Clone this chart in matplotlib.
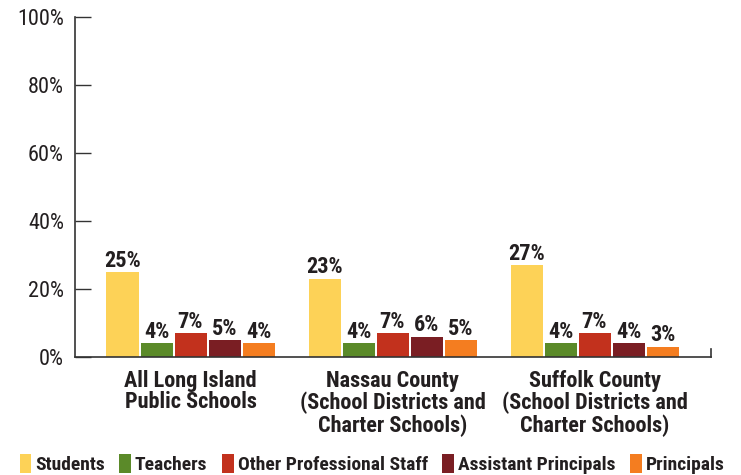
import matplotlib
matplotlib.use("Agg")
import matplotlib.pyplot as plt
import numpy as np
from matplotlib.patches import Patch

groups = ["All Long Island\nPublic Schools",
          "Nassau County\n(School Districts and\nCharter Schools)",
          "Suffolk County\n(School Districts and\nCharter Schools)"]
series = ["Students", "Teachers", "Other Professional Staff", "Assistant Principals", "Principals"]
students = [25, 23, 27]
teachers = [4, 4, 4]
other_staff = [7, 7, 7]
asst_principals = [5, 6, 4]
principals = [4, 5, 3]
values = [students, teachers, other_staff, asst_principals, principals]
colors = ["#FDD257", "#5B8A29", "#C2311D", "#7A1E23", "#F47D20"]
yticks = [0, 20, 40, 60, 80, 100]
ytick_labels = ["0%", "20%", "40%", "60%", "80%", "100%"]

fam = ['Roboto Condensed', 'Archivo Narrow', 'Asap Condensed', 'DejaVu Sans']
plt.rcParams['font.family'] = fam

fig = plt.figure(figsize=(7.41, 4.75), dpi=100)
ax = fig.add_axes([75/741, 1-357/475, 636/741, 340/475])

x = np.arange(len(groups))
step = 34/202
width = 32/202
for i, (vals, col, name) in enumerate(zip(values, colors, series)):
    pos = x + (i - 2) * step
    bars = ax.bar(pos, vals, width=width, color=col, label=name, zorder=2)
    for b, v in zip(bars, vals):
        ax.annotate(f"{v}%", (b.get_x() + b.get_width()/2, v), xytext=(0, 0.3),
                    textcoords="offset points", ha="center", va="bottom",
                    fontsize=16, fontweight="bold", color="#231F20")

ax.set_xlim((75-190.5)/202, (711-190.5)/202)
ax.set_ylim(0, 100)
ax.set_yticks(yticks)
ax.set_yticklabels(ytick_labels, fontsize=16, color="#231F20")
ax.tick_params(axis='y', direction='in', length=11.5, width=1, color="#333333", pad=8)
ax.set_xticks(x)
ax.set_xticklabels(groups, fontsize=16, fontweight="bold", color="#231F20", linespacing=1.0)
ax.tick_params(axis='x', length=0, pad=9)
for s in ['top', 'right']:
    ax.spines[s].set_visible(False)
for s in ['left', 'bottom']:
    ax.spines[s].set_color("#333333")
    ax.spines[s].set_linewidth(1.2)
ax.axvline(ax.get_xlim()[1], ymin=0, ymax=8/340, color="#333333", lw=1.2, clip_on=False)

handles = [Patch(facecolor=c, edgecolor='none', label=n) for c, n in zip(colors, series)]
leg = fig.legend(handles=handles, loc='center', bbox_to_anchor=(0.502, 1-464/475), ncol=5,
                 frameon=False, handlelength=0.6, handleheight=1.1, handletextpad=0.2,
                 columnspacing=0.75, prop={'family': fam, 'weight': 'bold', 'size': 14})
for t in leg.get_texts():
    t.set_color("#231F20")

fig.savefig("out.png", dpi=100)
